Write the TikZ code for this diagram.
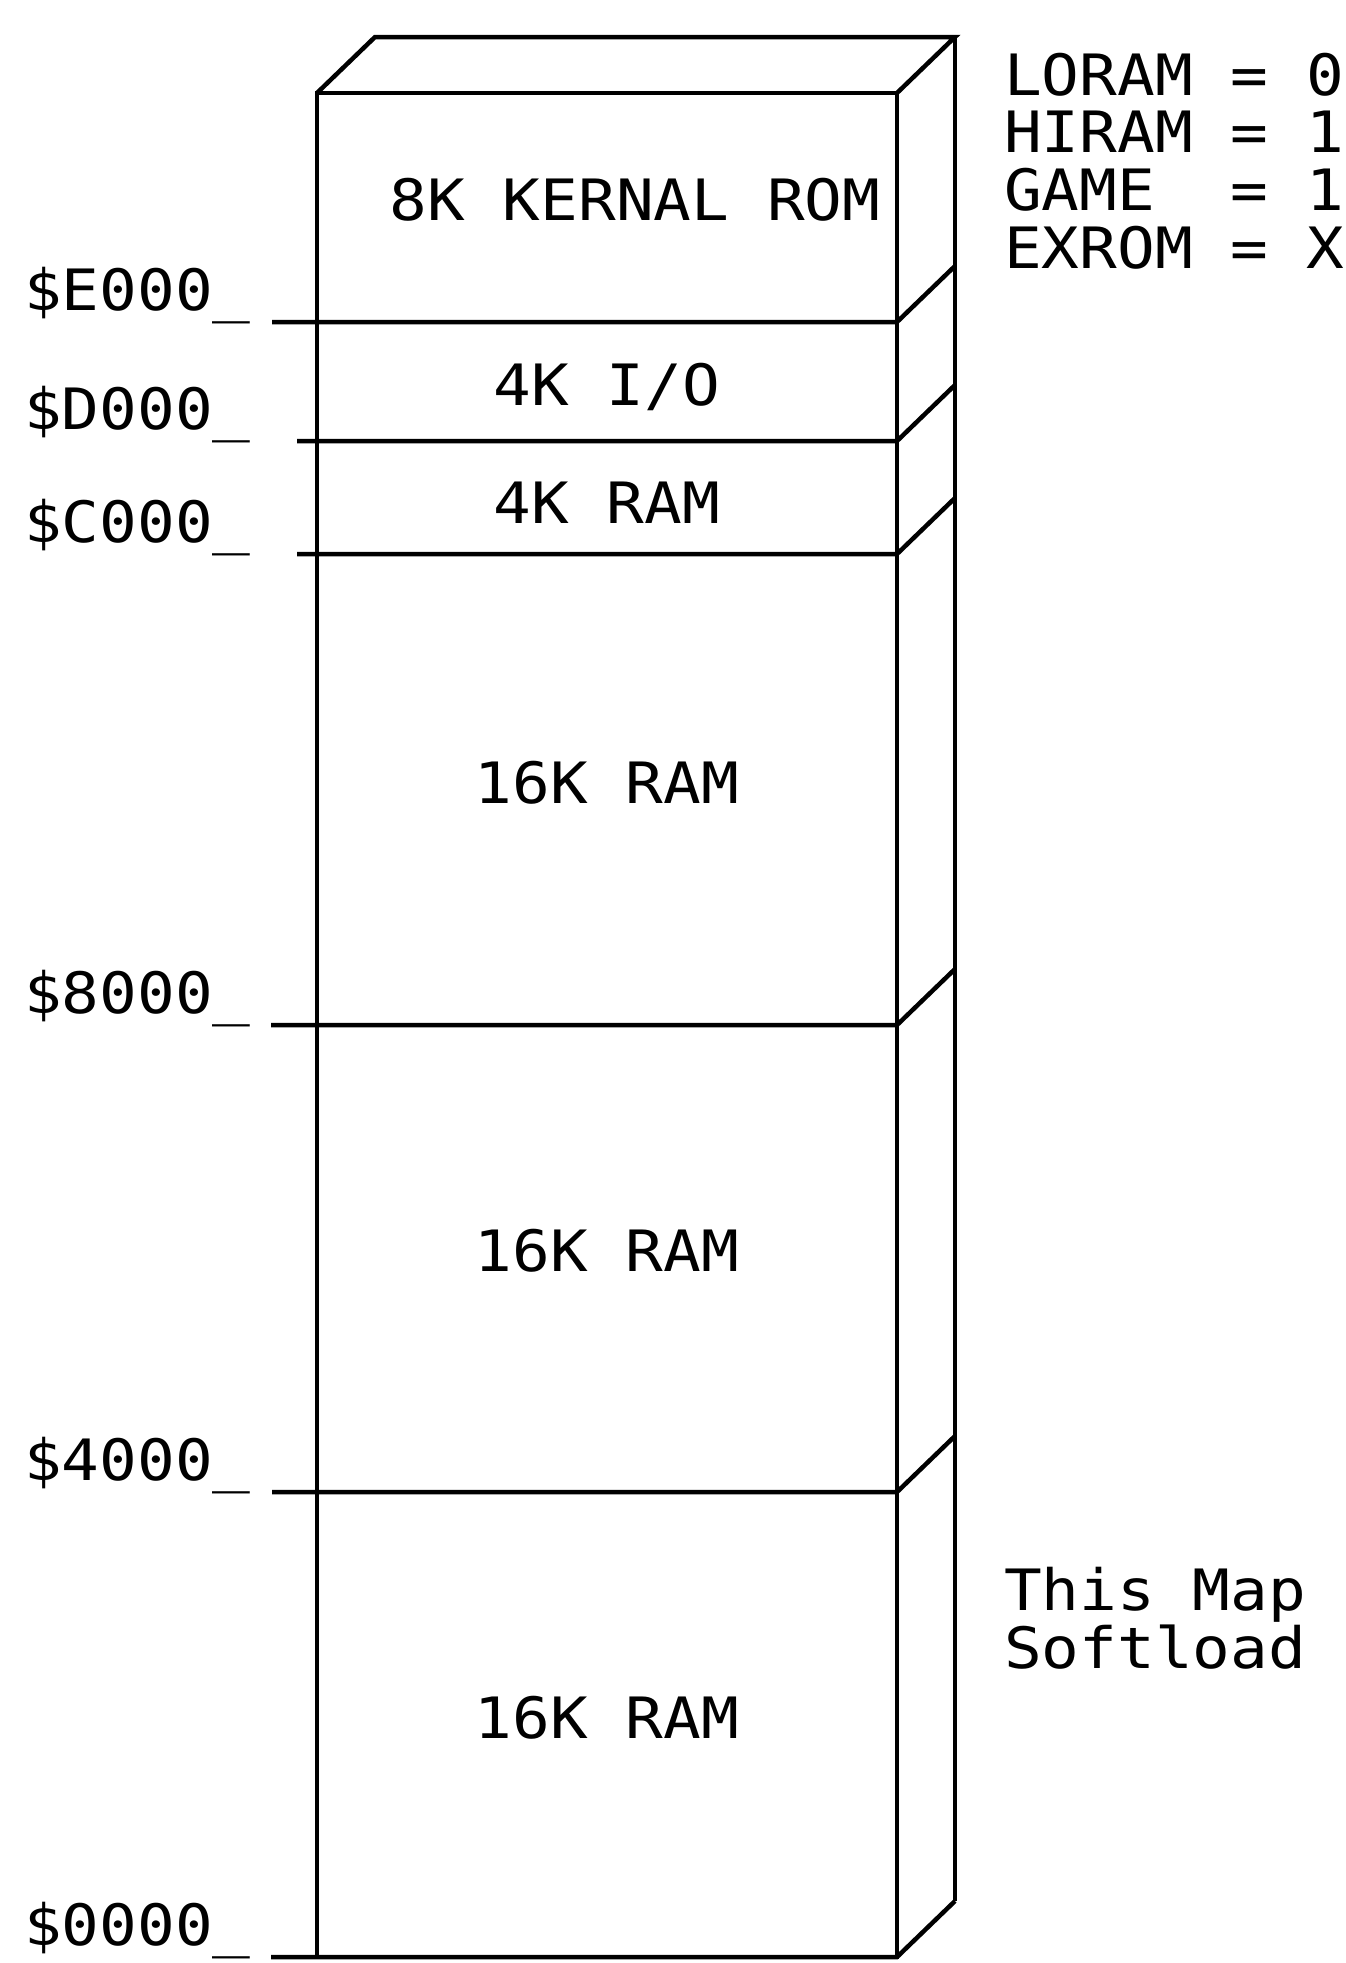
\documentclass[tikz,border=0pt]{standalone}
\usepackage{fontspec}
\newfontfamily\plotfont[FakeStretch=1.1]{DejaVu Sans Mono}

\begin{document}
\begin{tikzpicture}[
    x=1pt, y=-1pt,
    wall/.style = {line width=4.5pt, line join=miter},
    lbl/.style  = {font=\plotfont\fontsize{57}{58}\selectfont,
                   inner sep=0pt, anchor=base},
    addr/.style = {lbl, anchor=base west},
  ]
    \useasboundingbox (0,0) rectangle (1345,1963);
    % front face and top of the block
    \draw[wall] (317,93) rectangle (897,1957);
    \draw[wall] (317,93) -- ++(58,-56) -- (955,37) -- (897,93);
    \draw[wall] (955,37) -- (955,1901);
    % address boundaries with their side edges
    \foreach \y/\x/\addr in {322/272/E000, 441/297/D000, 554/297/C000,
                             1025/271/8000, 1492/272/4000, 1957/271/0000} {
      \draw[wall] (\x,\y) -- (897,\y) -- ++(58,-56);
      \node[addr] (a\addr) at (24,\y-12) {\$\addr\_};
    }
    % contents
    \node[lbl] (kernal) at (635,220)  {8K KERNAL ROM};
    \node[lbl] (io)     at (607,405)  {4K I/O};
    \node[lbl] (ramC)   at (607,523)  {4K RAM};
    \node[lbl] (ramHi)  at (607,803)  {16K RAM};
    \node[lbl] (ramMid) at (607,1271) {16K RAM};
    \node[lbl] (ramLo)  at (607,1738) {16K RAM};
    % control lines
    \foreach \txt [count=\i] in {LORAM = 0, HIRAM = 1, GAME\ \ = 1, EXROM = X}
      \node[addr] (flag\i) at (1004,{95+57.7*(\i-1)}) {\txt};
    \node[addr] (note1) at (1004,1610) {This Map};
    \node[addr] (note2) at (1004,1668) {Softload};
\end{tikzpicture}
\end{document}
